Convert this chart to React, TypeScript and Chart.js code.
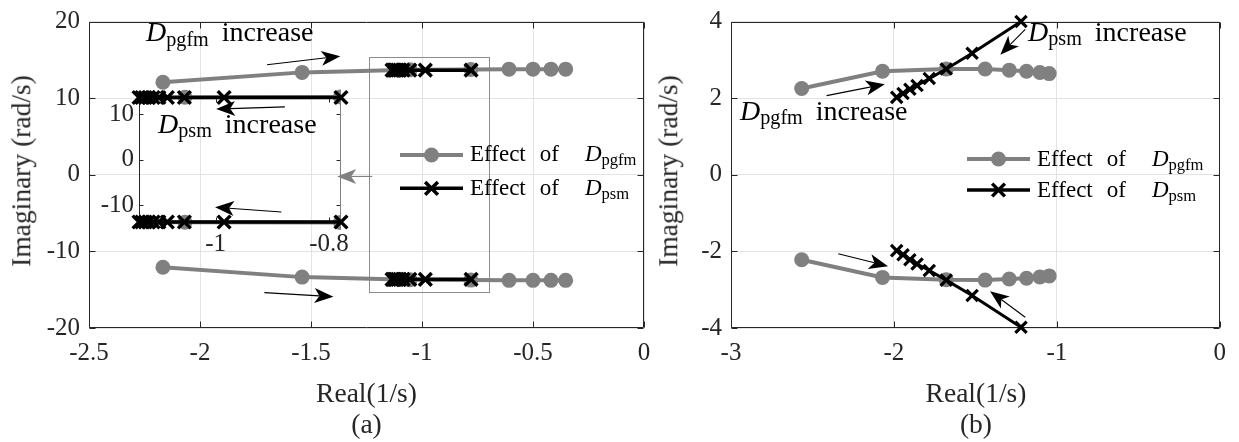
import React, { useEffect, useRef } from "react";
import { Chart, registerables } from "chart.js";
Chart.register(...registerables);

// ---------------- data: panel (a) ----------------
const pgfmReA = [-2.167, -1.54, -1.054, -0.78, -0.608, -0.5, -0.419, -0.353];
const pgfmImUpA = [12.08, 13.36, 13.7, 13.75, 13.78, 13.78, 13.78, 13.78];
const pgfmImLoA = [-12.08, -13.36, -13.7, -13.75, -13.78, -13.78, -13.78, -13.78];
const psmReA = [-0.779, -0.985, -1.055, -1.085, -1.1, -1.11, -1.118, -1.124, -1.13, -1.135];
const psmImUpA = [13.65, 13.65, 13.65, 13.65, 13.65, 13.65, 13.65, 13.65, 13.65, 13.65];
const psmImLoA = [-13.65, -13.65, -13.65, -13.65, -13.65, -13.65, -13.65, -13.65, -13.65, -13.65];

// ---------------- data: panel (b) ----------------
const pgfmReB = [-2.566, -2.07, -1.679, -1.44, -1.292, -1.186, -1.104, -1.047];
const pgfmImUpB = [2.25, 2.7, 2.76, 2.76, 2.73, 2.7, 2.67, 2.64];
const pgfmImLoB = [-2.22, -2.68, -2.74, -2.75, -2.72, -2.7, -2.67, -2.64];
const psmReB = [-1.22, -1.52, -1.679, -1.783, -1.858, -1.902, -1.944, -1.983];
const psmImUpB = [4.0, 3.17, 2.76, 2.51, 2.33, 2.23, 2.12, 2.02];
const psmImLoB = [-3.98, -3.15, -2.75, -2.5, -2.33, -2.22, -2.09, -1.98];

// ---------------- axes / ticks ----------------
const xRangeA = [-2.5, 0];
const yRangeA = [-20, 20];
const xTicksA = [-2.5, -2, -1.5, -1, -0.5, 0];
const yTicksA = [-20, -10, 0, 10, 20];
const xRangeIn = [-1.135, -0.779];
const yRangeIn = [-13.65, 13.65];
const xTicksIn = [-1, -0.8];
const yTicksIn = [-10, 0, 10];
const xRangeB = [-3, 0];
const yRangeB = [-4, 4];
const xTicksB = [-3, -2, -1, 0];
const yTicksB = [-4, -2, 0, 2, 4];
const zoomRectA = [-1.239, -0.697, -15.25, 15.4];

// ---------------- text ----------------
const yTitle = "Imaginary (rad/s)";
const xTitle = "Real(1/s)";
const captions = ["(a)", "(b)"];
const increaseWord = "increase";
const effectWords = ["Effect", "of"];

const FONT = '"Liberation Serif", "DejaVu Serif", serif';
const GRAY = "#808080";
const INK = "#262626";

type Pt = { x: number; y: number };
const pts = (xs: number[], ys: number[]): Pt[] => xs.map((x, i) => ({ x, y: ys[i] }));

function pgfmSet(data: Pt[], r = 7.5, bw = 4, clip: any = false) {
  return {
    data,
    showLine: true,
    borderColor: GRAY,
    backgroundColor: GRAY,
    borderWidth: bw,
    pointStyle: "circle",
    pointRadius: r,
    pointBackgroundColor: GRAY,
    pointBorderColor: GRAY,
    pointBorderWidth: 0,
    tension: 0,
    order: 2,
    clip,
  };
}
function psmSet(data: Pt[], r = 9, bw = 3.5, pbw = 3.5) {
  return {
    data,
    showLine: true,
    borderColor: "#000",
    backgroundColor: "#000",
    borderWidth: bw,
    pointStyle: "crossRot",
    pointRadius: r,
    pointBorderColor: "#000",
    pointBorderWidth: pbw,
    tension: 0,
    order: 1,
    clip: false,
  };
}

type Arrow = { from: [number, number]; to: [number, number]; color: string };
type LegendRow = { x1: number; x2: number; y: number; kind: "pgfm" | "psm" };

function drawArrow(ctx: CanvasRenderingContext2D, x1: number, y1: number, x2: number, y2: number, color: string) {
  const ang = Math.atan2(y2 - y1, x2 - x1);
  const L = 19, W = 7.5, N = 5;
  ctx.save();
  ctx.strokeStyle = color;
  ctx.fillStyle = color;
  ctx.lineWidth = 1.1;
  ctx.beginPath();
  ctx.moveTo(x1, y1);
  ctx.lineTo(x2 - Math.cos(ang) * (L - N), y2 - Math.sin(ang) * (L - N));
  ctx.stroke();
  ctx.translate(x2, y2);
  ctx.rotate(ang);
  ctx.beginPath();
  ctx.moveTo(0, 0);
  ctx.lineTo(-L, -W);
  ctx.lineTo(-L + N, 0);
  ctx.lineTo(-L, W);
  ctx.closePath();
  ctx.fill();
  ctx.restore();
}

function decorPlugin(o: {
  tick: number;
  rightColor?: string;
  arrows?: Arrow[];
  rect?: number[];
  legend?: LegendRow[];
  dx: number;
  dy: number;
}) {
  return {
    id: "decor",
    beforeDatasetsDraw(chart: any) {
      const { ctx, chartArea: a, scales } = chart;
      const sx = scales.x, sy = scales.y;
      ctx.save();
      ctx.lineWidth = 1;
      ctx.strokeStyle = INK;
      const L = Math.round(a.left) + 0.5, R = Math.round(a.right) - 0.5;
      const T = Math.round(a.top) + 0.5, B = Math.round(a.bottom) - 0.5;
      ctx.beginPath();
      for (const t of sx.ticks) {
        const p = Math.round(sx.getPixelForValue(t.value)) + 0.5;
        ctx.moveTo(p, B); ctx.lineTo(p, B - o.tick);
        ctx.moveTo(p, T); ctx.lineTo(p, T + o.tick);
      }
      for (const t of sy.ticks) {
        const p = Math.round(sy.getPixelForValue(t.value)) + 0.5;
        ctx.moveTo(L, p); ctx.lineTo(L + o.tick, p);
        ctx.moveTo(R, p); ctx.lineTo(R - o.tick, p);
      }
      ctx.stroke();
      ctx.beginPath();
      ctx.moveTo(R, T); ctx.lineTo(L, T); ctx.lineTo(L, B); ctx.lineTo(R, B);
      ctx.stroke();
      ctx.strokeStyle = o.rightColor || INK;
      ctx.beginPath();
      ctx.moveTo(R, T); ctx.lineTo(R, B);
      ctx.stroke();
      if (o.rect) {
        const [x0, x1, y0, y1] = o.rect;
        const px0 = sx.getPixelForValue(x0), px1 = sx.getPixelForValue(x1);
        const py0 = sy.getPixelForValue(y0), py1 = sy.getPixelForValue(y1);
        ctx.strokeStyle = "#8c8c8c";
        ctx.lineWidth = 1;
        ctx.strokeRect(Math.round(px0) + 0.5, Math.round(py1) + 0.5, Math.round(px1 - px0), Math.round(py0 - py1));
      }
      ctx.restore();
    },
    afterDraw(chart: any) {
      const { ctx, scales } = chart;
      const sx = scales.x, sy = scales.y;
      for (const ar of o.arrows || []) {
        drawArrow(
          ctx,
          sx.getPixelForValue(ar.from[0]), sy.getPixelForValue(ar.from[1]),
          sx.getPixelForValue(ar.to[0]), sy.getPixelForValue(ar.to[1]),
          ar.color
        );
      }
      for (const row of o.legend || []) {
        const x1 = row.x1 - o.dx, x2 = row.x2 - o.dx, y = row.y - o.dy;
        const cx = (x1 + x2) / 2;
        ctx.save();
        if (row.kind === "pgfm") {
          ctx.strokeStyle = GRAY; ctx.fillStyle = GRAY; ctx.lineWidth = 4;
          ctx.beginPath(); ctx.moveTo(x1, y); ctx.lineTo(x2, y); ctx.stroke();
          ctx.beginPath(); ctx.arc(cx, y, 7.5, 0, Math.PI * 2); ctx.fill();
        } else {
          ctx.strokeStyle = "#000"; ctx.lineWidth = 3.5;
          ctx.beginPath(); ctx.moveTo(x1, y); ctx.lineTo(x2, y); ctx.stroke();
          const r = 9 * Math.SQRT1_2;
          ctx.beginPath();
          ctx.moveTo(cx - r, y - r); ctx.lineTo(cx + r, y + r);
          ctx.moveTo(cx - r, y + r); ctx.lineTo(cx + r, y - r);
          ctx.stroke();
        }
        ctx.restore();
      }
    },
  };
}

function scatterConfig(p: {
  datasets: any[];
  xr: number[]; yr: number[]; xt: number[]; yt: number[];
  yw: number; xh: number; padR: number; padT: number;
  fs: number; xpad: number; ypad: number; grid: boolean; plugin: any;
}) {
  const font = { family: FONT, size: p.fs, lineHeight: 1 };
  return {
    type: "scatter" as const,
    data: { datasets: p.datasets },
    options: {
      animation: false,
      responsive: false,
      maintainAspectRatio: false,
      events: [],
      layout: { padding: { left: 0, top: p.padT, right: p.padR, bottom: 0 } },
      plugins: { legend: { display: false }, tooltip: { enabled: false } },
      scales: {
        x: {
          type: "linear",
          min: p.xr[0], max: p.xr[1],
          afterBuildTicks: (s: any) => { s.ticks = p.xt.map((v) => ({ value: v })); },
          afterFit: (s: any) => { s.height = p.xh; },
          ticks: { font, color: INK, padding: p.xpad, maxRotation: 0, autoSkip: false, callback: (v: any) => String(Number(v)) },
          grid: { display: p.grid, color: "#e3e3e3", lineWidth: 1, drawTicks: false },
          border: { display: false },
        },
        y: {
          type: "linear",
          min: p.yr[0], max: p.yr[1],
          afterBuildTicks: (s: any) => { s.ticks = p.yt.map((v) => ({ value: v })); },
          afterFit: (s: any) => { s.width = p.yw; },
          ticks: { font, color: INK, padding: p.ypad, autoSkip: false, callback: (v: any) => String(Number(v)) },
          grid: { display: p.grid, color: "#e3e3e3", lineWidth: 1, drawTicks: false },
          border: { display: false },
        },
      },
    },
    plugins: [p.plugin],
  };
}

function PlotCanvas(props: { left: number; top: number; width: number; height: number; build: () => any }) {
  const ref = useRef<HTMLCanvasElement>(null);
  useEffect(() => {
    const chart = new Chart(ref.current as HTMLCanvasElement, props.build());
    return () => chart.destroy();
  }, []);
  return (
    <canvas
      ref={ref}
      width={props.width}
      height={props.height}
      style={{ position: "absolute", left: props.left, top: props.top, width: props.width, height: props.height }}
    />
  );
}

// ---------- chart builders ----------
const buildA = () =>
  scatterConfig({
    datasets: [
      psmSet(pts(psmReA, psmImUpA)),
      psmSet(pts(psmReA, psmImLoA)),
      pgfmSet(pts(pgfmReA, pgfmImUpA)),
      pgfmSet(pts(pgfmReA, pgfmImLoA)),
    ],
    xr: xRangeA, yr: yRangeA, xt: xTicksA, yt: yTicksA,
    yw: 89, xh: 52, padR: 46, padT: 14, fs: 25, xpad: 13, ypad: 9, grid: true,
    plugin: decorPlugin({
      tick: 6, dx: 0, dy: 0,
      rect: zoomRectA,
      arrows: [
        { from: [-1.698, 14.36], to: [-1.368, 15.48], color: "#000" },
        { from: [-1.71, -15.38], to: [-1.399, -15.92], color: "#000" },
        { from: [-1.224, -0.22], to: [-1.382, -0.22], color: GRAY },
      ],
      legend: [
        { x1: 400, x2: 463, y: 155, kind: "pgfm" },
        { x1: 400, x2: 463, y: 188.3, kind: "psm" },
      ],
    }),
  });

const buildInset = () =>
  scatterConfig({
    datasets: [
      psmSet(pts(psmReA, psmImUpA)),
      psmSet(pts(psmReA, psmImLoA)),
      pgfmSet(pts(pgfmReA, pgfmImUpA), 7.5, 4, { left: 0, right: 0, top: 10, bottom: 10 }),
      pgfmSet(pts(pgfmReA, pgfmImLoA), 7.5, 4, { left: 0, right: 0, top: 10, bottom: 10 }),
    ],
    xr: xRangeIn, yr: yRangeIn, xt: xTicksIn, yt: yTicksIn,
    yw: 59, xh: 48, padR: 19, padT: 13, fs: 25, xpad: 10, ypad: 5, grid: false,
    plugin: decorPlugin({
      tick: 4, dx: 80, dy: 80, rightColor: GRAY,
      arrows: [
        { from: [-0.878, 11.6], to: [-0.999, 11.11], color: "#000" },
        { from: [-0.884, -11.47], to: [-1.001, -10.41], color: "#000" },
      ],
    }),
  });

const buildB = () =>
  scatterConfig({
    datasets: [
      psmSet(pts(psmReB, psmImUpB), 8, 3, 3.2),
      psmSet(pts(psmReB, psmImLoB), 8, 3, 3.2),
      pgfmSet(pts(pgfmReB, pgfmImUpB)),
      pgfmSet(pts(pgfmReB, pgfmImLoB)),
    ],
    xr: xRangeB, yr: yRangeB, xt: xTicksB, yt: yTicksB,
    yw: 41, xh: 52, padR: 18, padT: 14, fs: 25, xpad: 13, ypad: 9, grid: true,
    plugin: decorPlugin({
      tick: 6, dx: 690, dy: 0,
      arrows: [
        { from: [-2.413, 2.066], to: [-2.056, 2.364], color: "#000" },
        { from: [-2.342, -2.064], to: [-2.036, -2.387], color: "#000" },
        { from: [-1.194, -3.718], to: [-1.41, -3.041], color: "#000" },
        { from: [-1.194, 3.796], to: [-1.347, 3.135], color: "#000" },
      ],
      legend: [
        { x1: 967, x2: 1030, y: 159, kind: "pgfm" },
        { x1: 967, x2: 1030, y: 190, kind: "psm" },
      ],
    }),
  });

// ---------- html text helpers ----------
function TextAt(props: { x: number; baseline: number; size: number; children: any }) {
  const s = props.size;
  return (
    <div
      style={{
        position: "absolute",
        left: props.x,
        top: props.baseline - 0.8375 * s,
        fontSize: s,
        lineHeight: `${s}px`,
        fontFamily: FONT,
        whiteSpace: "nowrap",
        color: "#000",
      }}
    >
      {props.children}
    </div>
  );
}

function Sym(props: { sub: string; size: number }) {
  return (
    <span>
      <i>D</i>
      <span style={{ fontSize: props.size * 0.72, position: "relative", top: props.size * 0.17 }}>{props.sub}</span>
    </span>
  );
}

function Centered(props: { cx: number; cy: number; size: number; rotate?: boolean; text: string }) {
  return (
    <div
      style={{
        position: "absolute",
        left: props.cx,
        top: props.cy,
        transform: `translate(-50%, -50%)${props.rotate ? " rotate(-90deg)" : ""}`,
        fontSize: props.size,
        lineHeight: `${props.size}px`,
        fontFamily: FONT,
        whiteSpace: "nowrap",
        color: INK,
      }}
    >
      {props.text}
    </div>
  );
}

function LegendText(props: { x: number; baseline: number; sub: string }) {
  const s = 23;
  return (
    <TextAt x={props.x} baseline={props.baseline} size={s}>
      <span>{effectWords[0]}</span>
      <span style={{ marginLeft: 14 }}>{effectWords[1]}</span>
      <span style={{ marginLeft: 26 }}>
        <Sym sub={props.sub} size={s} />
      </span>
    </TextAt>
  );
}

function Increase(props: { x: number; baseline: number; sub: string }) {
  const s = 28;
  return (
    <TextAt x={props.x} baseline={props.baseline} size={s}>
      <Sym sub={props.sub} size={s} />
      <span style={{ marginLeft: 13 }}>{increaseWord}</span>
    </TextAt>
  );
}

export default function App() {
  return (
    <div style={{ position: "absolute", left: 0, top: 0, width: 1239, height: 442, background: "#fff", overflow: "hidden" }}>
      <PlotCanvas left={0} top={0} width={690} height={380} build={buildA} />
      <PlotCanvas left={690} top={0} width={549} height={380} build={buildB} />
      <PlotCanvas left={80} top={80} width={280} height={190} build={buildInset} />

      <Centered cx={21} cy={171} size={27.5} rotate text={yTitle} />
      <Centered cx={668} cy={171} size={27.5} rotate text={yTitle} />
      <Centered cx={366.5} cy={393} size={27.5} text={xTitle} />
      <Centered cx={976} cy={393} size={27.5} text={xTitle} />
      <Centered cx={366.5} cy={424} size={27.5} text={captions[0]} />
      <Centered cx={976} cy={424} size={27.5} text={captions[1]} />

      <LegendText x={470} baseline={161.7} sub="pgfm" />
      <LegendText x={470} baseline={195} sub="psm" />
      <LegendText x={1037} baseline={166} sub="pgfm" />
      <LegendText x={1037} baseline={197} sub="psm" />

      <Increase x={146} baseline={41.7} sub="pgfm" />
      <Increase x={158} baseline={133} sub="psm" />
      <Increase x={740} baseline={120} sub="pgfm" />
      <Increase x={1028} baseline={41} sub="psm" />
    </div>
  );
}
